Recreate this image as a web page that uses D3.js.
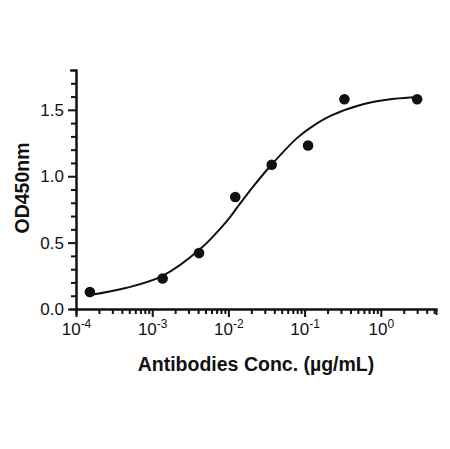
<!DOCTYPE html>
<html>
<head>
<meta charset="utf-8">
<script src="https://cdn.jsdelivr.net/npm/d3@7"></script>
<style>
  body { margin: 0; background: #fff; }
  #graph text { font-family: "Liberation Sans", Arial, sans-serif; fill: #111; }
  .axis path, .axis line { stroke: #111; stroke-width: 2; }
  .axis-title { font-weight: bold; font-size: 19.5px; }
  .fit { fill: none; stroke: #111; stroke-width: 2; }
</style>
</head>
<body>
<div id="graph"></div>
<script>
// measured points (conc in ug/mL, OD450)
var concValues = [0.000152, 0.00137, 0.00412, 0.0123, 0.037, 0.111, 0.333, 3.0];
var odValues   = [0.128, 0.230, 0.421, 0.843, 1.086, 1.231, 1.580, 1.580];

// fitted curve
var fitConc = [0.000152, 0.00045, 0.00137, 0.00415, 0.0093, 0.0135, 0.02, 0.037, 0.0787, 0.12, 0.215, 0.585, 1.5, 3.0];
var fitOd   = [0.105, 0.158, 0.250, 0.446, 0.655, 0.776, 0.905, 1.088, 1.285, 1.366, 1.452, 1.542, 1.583, 1.595];

var yMajor = [0, 0.5, 1.0, 1.5];
var yMinor = [0.1, 0.2, 0.3, 0.4, 0.6, 0.7, 0.8, 0.9, 1.1, 1.2, 1.3, 1.4, 1.6, 1.7, 1.8];
var xMajorExp = [-4, -3, -2, -1, 0];

var width = 450, height = 449;
var margin = {top: 70, right: 14, bottom: 140, left: 76};
var w = width - margin.left - margin.right;
var h = height - margin.top - margin.bottom;

var svg = d3.select("#graph").append("svg")
  .attr("width", width)
  .attr("height", height);

var g = svg.append("g").attr("transform", "translate(" + margin.left + "," + margin.top + ")");

var x = d3.scaleLog().domain([1e-4, 5.3]).range([0, w]);
var y = d3.scaleLinear().domain([0, 1.8]).range([h, 0]);

// minor ticks on the log axis: 2..9 in every decade
var xMinor = [];
xMajorExp.forEach(function(e) {
  for (var k = 2; k <= 9; k++) {
    var v = k * Math.pow(10, e);
    if (v <= x.domain()[1]) xMinor.push(v);
  }
});

// x axis
g.append("g")
    .attr("class", "axis axis--x-minor")
    .attr("transform", "translate(0," + h + ")")
    .call(d3.axisBottom(x).tickValues(xMinor).tickSize(5).tickFormat(""));

var xAxis = g.append("g")
    .attr("class", "axis axis--x")
    .attr("transform", "translate(0," + h + ")")
    .call(d3.axisBottom(x).tickValues(xMajorExp.map(function(e) { return Math.pow(10, e); }))
      .tickSize(8).tickSizeOuter(0).tickFormat(""));

xAxis.selectAll(".tick").each(function(d, i) {
  var t = d3.select(this).append("text")
    .attr("y", 26)
    .attr("text-anchor", "middle")
    .style("font-size", "17px");
  t.append("tspan").text("10");
  t.append("tspan")
    .attr("dy", -7)
    .style("font-size", "12px")
    .text(xMajorExp[i]);
});

// y axis
g.append("g")
    .attr("class", "axis axis--y-minor")
    .call(d3.axisLeft(y).tickValues(yMinor).tickSize(5).tickFormat(""));

g.append("g")
    .attr("class", "axis axis--y")
    .call(d3.axisLeft(y).tickValues(yMajor).tickSize(8).tickSizeOuter(0)
      .tickPadding(4).tickFormat(d3.format(".1f")))
  .selectAll("text")
    .style("font-size", "17px");

g.selectAll(".axis path").attr("stroke-linecap", "square");

// fitted curve
var line = d3.line()
  .x(function(d) { return x(d[0]); })
  .y(function(d) { return y(d[1]); })
  .curve(d3.curveCatmullRom);

g.append("path")
  .datum(d3.zip(fitConc, fitOd))
  .attr("class", "fit")
  .attr("d", line);

// points
g.selectAll(".dot")
  .data(d3.zip(concValues, odValues))
  .enter().append("circle")
    .attr("class", "dot")
    .attr("cx", function(d) { return x(d[0]); })
    .attr("cy", function(d) { return y(d[1]); })
    .attr("r", 5.3)
    .attr("fill", "#111");

// titles
svg.append("text")
  .attr("class", "axis-title")
  .attr("x", 256)
  .attr("y", 371)
  .attr("text-anchor", "middle")
  .text("Antibodies Conc. (\u00b5g/mL)");

svg.append("text")
  .attr("class", "axis-title")
  .attr("transform", "translate(29,188) rotate(-90)")
  .attr("text-anchor", "middle")
  .text("OD450nm");
</script>
</body>
</html>
